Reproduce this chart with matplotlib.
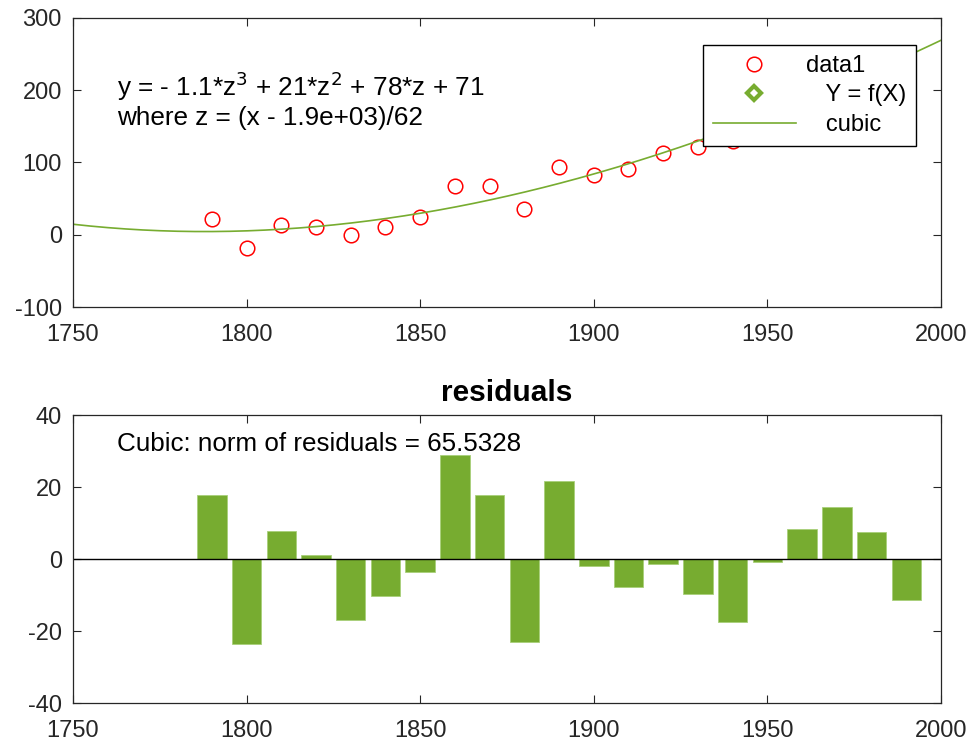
import numpy as np
import matplotlib
matplotlib.use("Agg")
import matplotlib.pyplot as plt
from matplotlib.lines import Line2D

plt.rcParams['font.family'] = ['Liberation Sans', 'DejaVu Sans']
plt.rcParams['axes.unicode_minus'] = False

# data
years = [1790, 1800, 1810, 1820, 1830, 1840, 1850, 1860, 1870, 1880, 1890,
         1900, 1910, 1920, 1930, 1940, 1950, 1960, 1970, 1980, 1990]
values = [22, -19, 14, 11, 0, 11, 25, 67, 67, 36, 94,
          83, 91, 113, 122, 130, 164, 193, 219, 232, 235]
residuals = [17.9, -23.5, 7.8, 1.1, -16.9, -10.2, -3.7, 28.8, 17.9, -23.0, 21.7,
             -1.9, -7.9, -1.4, -9.7, -17.5, -0.8, 8.4, 14.5, 7.4, -11.4]

# cubic fit from the annotation: y = p(z), z = (x - mu)/sigma
coeffs = [-1.1, 21, 78, 71]
mu, sigma = 1890, 62.05

green = '#77AC30'
axcol = '#262626'
fs = 17

fig = plt.figure(figsize=(9.74, 7.43), dpi=100)

# top panel: data and fit
ax1 = fig.add_axes([0.0749, 0.5868, 0.8912, 0.389])
xf = np.linspace(1750, 2000, 300)
yf = np.polyval(coeffs, (xf - mu) / sigma)
ax1.plot(years, values, 'o', mfc='none', mec='red', ms=10.5, mew=1.1)
ax1.plot(xf, yf, '-', color=green, lw=1.2)
ax1.set_xlim(1750, 2000)
ax1.set_ylim(-100, 300)
ax1.set_xticks(np.arange(1750, 2001, 50))
ax1.set_yticks(np.arange(-100, 301, 100))

ax1.text(0.0507, 0.765, r'y = - 1.1*z$^3$ + 21*z$^2$ + 78*z + 71',
         transform=ax1.transAxes, fontsize=18.8, color='black', va='center')
ax1.text(0.0507, 0.655, 'where z = (x - 1.9e+03)/62',
         transform=ax1.transAxes, fontsize=18.8, color='black', va='center')

handles = [
    Line2D([], [], ls='none', marker='o', mfc='none', mec='red', ms=10.5, mew=1.1),
    Line2D([], [], ls='none', marker='D', mfc='white', mec=green, ms=7, mew=3),
    Line2D([], [], color=green, lw=1.2),
]
labels = ['data1', '   Y = f(X)', '   cubic']
leg = ax1.legend(handles, labels, loc='upper left', bbox_to_anchor=(0.7258, 0.907),
                 fontsize=17, frameon=True, fancybox=False, framealpha=1,
                 edgecolor='black', handlelength=3.5, handletextpad=0.45,
                 borderpad=0.42, labelspacing=0.32, borderaxespad=0)
leg.get_frame().set_linewidth(1.0)

# bottom panel: residuals
ax2 = fig.add_axes([0.0749, 0.0538, 0.8912, 0.3876])
ax2.bar(years, residuals, width=8.5, color=green, edgecolor='#A9D07A', lw=0.6)
ax2.axhline(0, color='black', lw=1.0)
ax2.set_xlim(1750, 2000)
ax2.set_ylim(-40, 40)
ax2.set_xticks(np.arange(1750, 2001, 50))
ax2.set_yticks(np.arange(-40, 41, 20))
ax2.set_title('residuals', fontsize=21.5, fontweight='bold', pad=10)
ax2.text(0.0507, 0.9, 'Cubic: norm of residuals = 65.5328',
         transform=ax2.transAxes, fontsize=18.7, color='black', va='center')

for ax in (ax1, ax2):
    ax.tick_params(direction='in', top=True, right=True, length=6,
                   labelsize=fs, colors=axcol, width=0.8)
    ax.tick_params(axis='x', pad=12)
    ax.tick_params(axis='y', pad=8)
    for s in ax.spines.values():
        s.set_color(axcol)
        s.set_linewidth(0.9)

fig.savefig('out.png', dpi=100, facecolor='white')
